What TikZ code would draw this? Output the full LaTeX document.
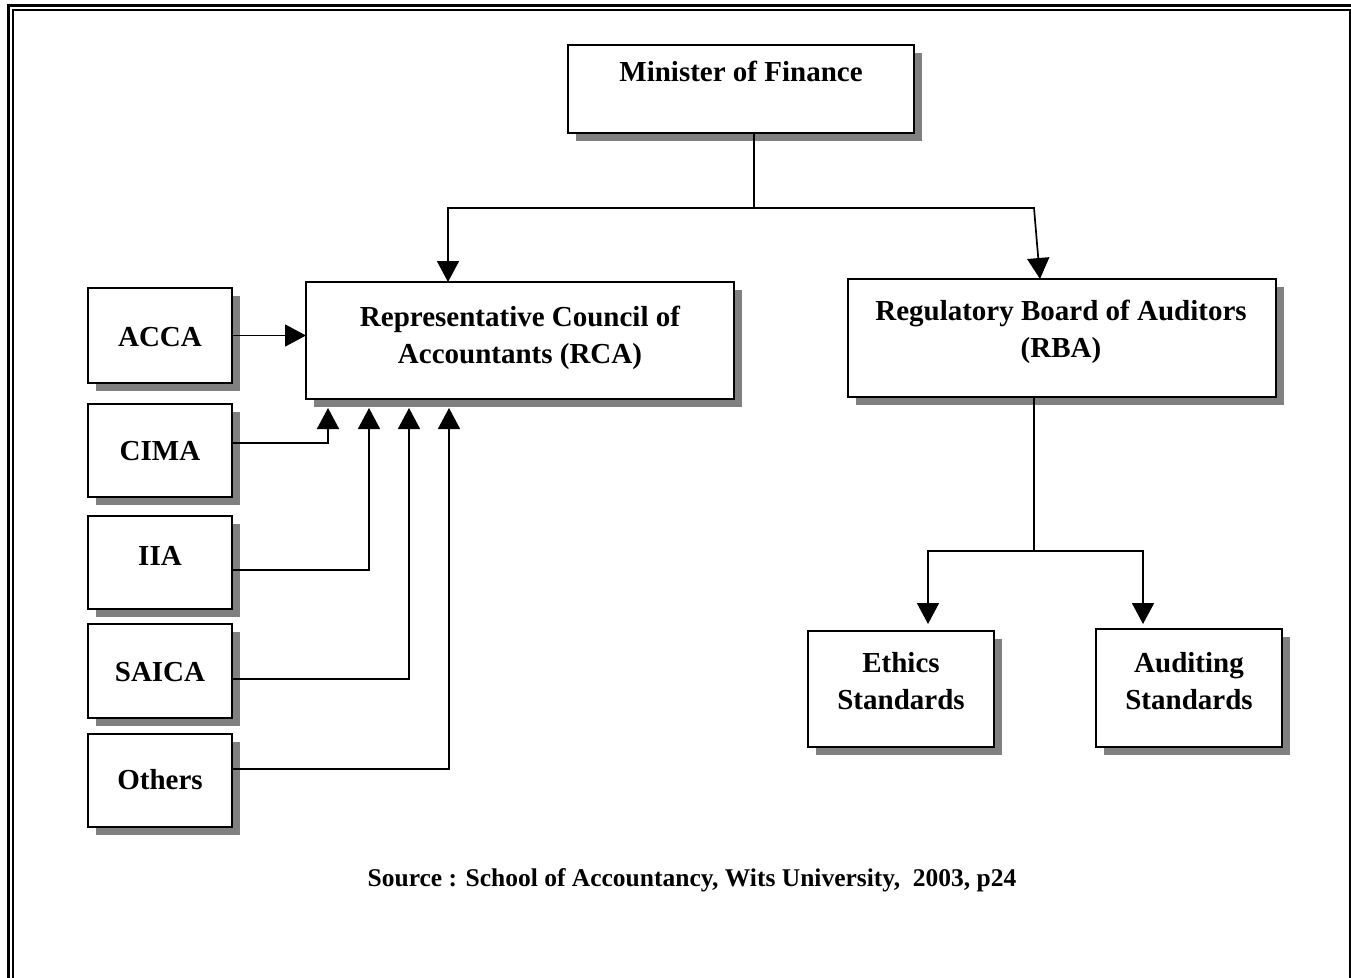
\documentclass[tikz,border=0pt]{standalone}
\usepackage{fontspec}
\setmainfont{Liberation Serif}
\usetikzlibrary{arrows.meta,shadows,calc}
\begin{document}
\begin{tikzpicture}[x=1pt,y=-1pt,
  box/.style={draw,line width=1.7pt,fill=white,inner sep=0pt,outer sep=0pt,anchor=north west,
    drop shadow={shadow xshift=8pt,shadow yshift=-8pt,fill=black!50,opacity=1}},
  lbl/.style={font=\fontsize{29}{37}\selectfont\bfseries,align=center,inner sep=0pt},
  src/.style={font=\fontsize{25.5}{30}\selectfont\bfseries,inner sep=0pt},
  conn/.style={line width=1.7pt},
  arr/.style={conn,-{Triangle[length=21pt,width=22pt]}}]
\useasboundingbox (0,0) rectangle (1351,977);
\fill[white] (0,0) rectangle (1351,977);
\begin{scope}
\clip (0,0) rectangle (1351,977);
\draw[line width=2.8pt] (8.5,5.5) rectangle (1362,995);
\draw[line width=2pt] (13,10) rectangle (1350,990);
\end{scope}

% boxes
\node[box,minimum width=346pt,minimum height=88pt] (mof) at (568,45) {};
\node[box,minimum width=428pt,minimum height=117pt] (rca) at (306,282) {};
\node[box,minimum width=428pt,minimum height=118pt] (rba) at (848,279) {};
\node[box,minimum width=144pt,minimum height=95pt] (acca) at (88,288) {};
\node[box,minimum width=144pt,minimum height=93pt] (cima) at (88,404) {};
\node[box,minimum width=144pt,minimum height=93pt] (iia) at (88,516) {};
\node[box,minimum width=144pt,minimum height=94pt] (saica) at (88,624) {};
\node[box,minimum width=144pt,minimum height=93pt] (others) at (88,734) {};
\node[box,minimum width=186pt,minimum height=116pt] (ethics) at (808,631) {};
\node[box,minimum width=186pt,minimum height=118pt] (audit) at (1096,629) {};

% texts
\node[lbl] (mof-t) at (741,71) {Minister of Finance};
\node[lbl] (rca-t) at (520,338) {Representative Council of\\Accountants (RCA)};
\node[lbl] (rba-t) at (1061,332) {Regulatory Board of Auditors\\(RBA)};
\node[lbl] (acca-t) at (160,337) {ACCA};
\node[lbl] (cima-t) at (160,451) {CIMA};
\node[lbl] (iia-t) at (160,556) {IIA};
\node[lbl] (saica-t) at (160,672) {SAICA};
\node[lbl] (others-t) at (160,780) {Others};
\node[lbl] (ethics-t) at (901,681) {Ethics\\Standards};
\node[lbl] (audit-t) at (1189,681) {Auditing\\Standards};
\node[src] (source) at (692,880) {Source : School of Accountancy, Wits University,\ \ 2003, p24};

% junctions and arrow tips
\coordinate (j1) at (754,208);
\coordinate (jl) at (448,208);
\coordinate (jr) at (1034,208);
\coordinate (j2) at (1034,551);
\coordinate (e1) at (928,624);
\coordinate (e2) at (1143,624);
\coordinate (t1) at (328,408);
\coordinate (t2) at (369,408);
\coordinate (t3) at (409,408);
\coordinate (t4) at (449,408);

% connectors
\draw[conn] (mof.south -| j1) -- (j1);
\draw[arr] (j1) -- (jl) -- (jl |- rca.north);
\draw[arr] (j1) -- (jr) -- ($(rba.north west)+(192,0)$);
\draw[arr] (acca.east) -- (acca.east -| rca.west);
\draw[arr] ($(cima.east)+(0,-7.5)$) -| (t1);
\draw[arr] ($(iia.east)+(0,7.5)$) -| (t2);
\draw[arr] ($(saica.east)+(0,8)$) -| (t3);
\draw[arr] ($(others.east)+(0,-11.5)$) -| (t4);
\draw[conn] (rba.south -| j2) -- (j2);
\draw[arr] (j2) -| (e1);
\draw[arr] (j2) -| (e2);
\end{tikzpicture}
\end{document}
